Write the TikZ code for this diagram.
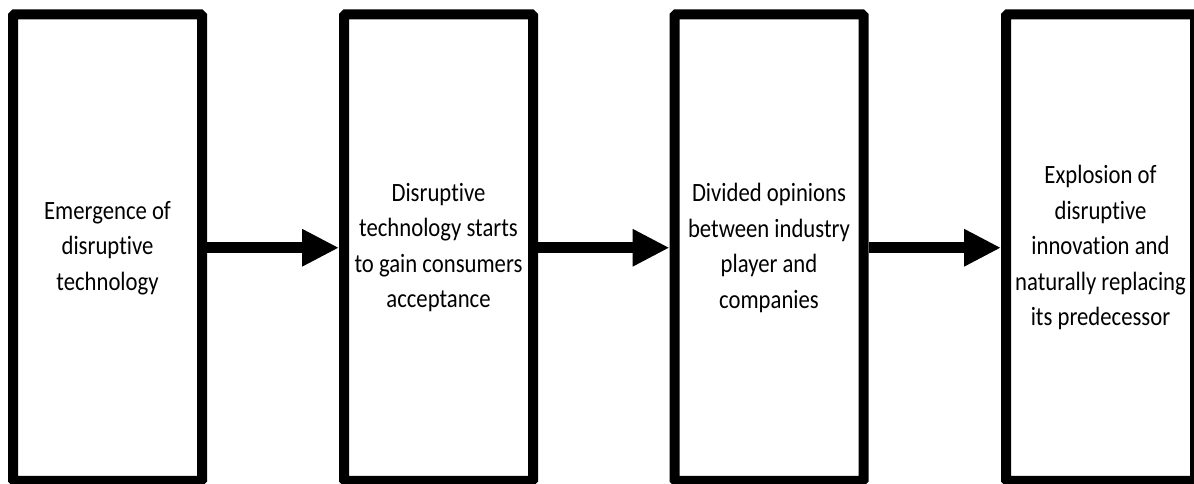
\documentclass[tikz,border=0pt]{standalone}
\usepackage{fontspec}
\setmainfont{Carlito}[FakeStretch=0.86,RawFeature=-liga]
\usetikzlibrary{arrows.meta,positioning}

\begin{document}
\begin{tikzpicture}[x=1pt,y=1pt,
  stage/.style={draw, line width=10pt, rounded corners=1.5pt, minimum width=189pt, minimum height=466.5pt, align=center, inner sep=0pt, font=\fontsize{26.4}{35.5}\selectfont},
  flow/.style={line width=11pt, -{Triangle[length=37pt,width=35pt]}}]
\useasboundingbox (0,0) rectangle (1194,484);
\node[stage] (emerge) at (107.5,236.25) {Emergence of\\disruptive\\technology};
\node[stage] (accept) at (438.5,236.25) {Disruptive\\technology starts\\to gain consumers\\acceptance};
\node[stage] (divide) at (769,236.25) {Divided opinions\\between industry\\player and\\companies};
\node[stage] (explode) at (1100.5,236.25) {Explosion of\\disruptive\\innovation and\\naturally replacing\\its predecessor};
\draw[flow] (emerge) -- (accept);
\draw[flow] (accept) -- (divide);
\draw[flow] (divide) -- (explode);
\end{tikzpicture}
\end{document}
